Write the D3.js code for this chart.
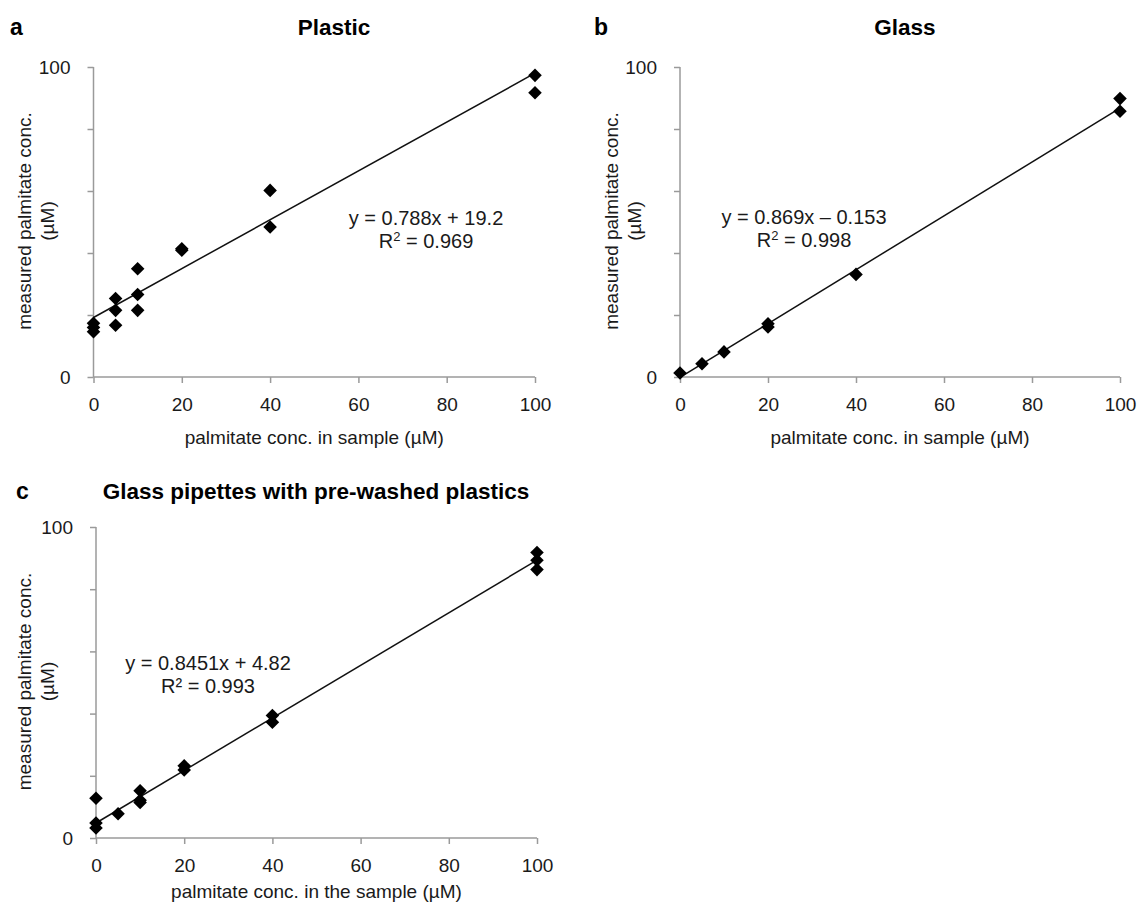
<!DOCTYPE html>
<html>
<head>
<meta charset="utf-8">
<script src="https://cdn.jsdelivr.net/npm/d3@7"></script>
<style>
  body { margin: 0; background: #fff; }
  svg { font-family: "Liberation Sans", Arial, sans-serif; }
</style>
</head>
<body>
<svg id="chart" width="1139" height="905"></svg>
<script>
// ---- data ----
const plasticX = [0, 0, 0, 5, 5, 5, 10, 10, 10, 20, 20, 40, 40, 100, 100];
const plasticY = [17.3, 16.0, 14.6, 25.3, 21.5, 16.7, 34.9, 26.6, 21.5, 41.4, 40.9, 60.2, 48.4, 97.3, 91.7];

const glassX = [0, 5, 10, 20, 20, 40, 100, 100];
const glassY = [1.3, 4.3, 8.1, 17.2, 16.1, 33.1, 89.8, 85.7];

const pipetteX = [0, 0, 0, 5, 10, 10, 10, 20, 20, 40, 40, 100, 100, 100];
const pipetteY = [12.8, 4.8, 3.2, 7.8, 15.2, 11.4, 12.1, 23.2, 21.9, 39.4, 37.2, 91.8, 89.3, 86.3];

const fitSlope = [0.788, 0.869, 0.8451];
const fitIntercept = [19.2, -0.153, 4.82];
const eqText = ["y = 0.788x + 19.2", "y = 0.869x \u2013 0.153", "y = 0.8451x + 4.82"];
const r2Text = ["0.969", "0.998", "0.993"];

const panelLetters = ["a", "b", "c"];
const panelTitles = ["Plastic", "Glass", "Glass pipettes with pre-washed plastics"];
const xTitles = ["palmitate conc. in sample (\u00b5M)", "palmitate conc. in sample (\u00b5M)", "palmitate conc. in the sample (\u00b5M)"];
const yTitle = ["measured palmitate conc.", "(\u00b5M)"];
const xTicks = [0, 20, 40, 60, 80, 100];
const yTicks = [0, 20, 40, 60, 80, 100];
const yTickLabels = { 0: "0", 100: "100" };

// ---- layout ----
const panels = [
  { x0: 93.5, x1: 535, yb: 377, yt: 67, letterX: 10, titleX: 334, titleY: 35, ytX: 24, xtY: 444, eqX: 426, eqY: 225, sup: true,
    xs: plasticX, ys: plasticY },
  { x0: 680, x1: 1120, yb: 377, yt: 67, letterX: 594, titleX: 905, titleY: 35, ytX: 611, xtY: 444, eqX: 804, eqY: 224, sup: true,
    xs: glassX, ys: glassY },
  { x0: 96, x1: 537, yb: 838, yt: 527, letterX: 16, titleX: 316, titleY: 499, ytX: 24, xtY: 898, eqX: 208, eqY: 670, sup: false,
    xs: pipetteX, ys: pipetteY }
];

const axisColor = "#9a9a9a";
const textColor = "#1a1a1a";

const svg = d3.select("#chart");

panels.forEach(function(p, i) {
  const x = d3.scaleLinear().domain([0, 100]).range([p.x0, p.x1]);
  const y = d3.scaleLinear().domain([0, 100]).range([p.yb, p.yt]);
  const g = svg.append("g");

  // axes
  const yAxis = d3.axisLeft(y).tickValues(yTicks).tickSize(6).tickPadding(17)
    .tickFormat(function(d){ return yTickLabels[d] || ""; });
  const xAxis = d3.axisBottom(x).tickValues(xTicks).tickSize(6).tickPadding(15);

  const ya = g.append("g").attr("transform", "translate(" + p.x0 + ",0)").call(yAxis);
  const xa = g.append("g").attr("transform", "translate(0," + p.yb + ")").call(xAxis);
  [ya, xa].forEach(function(a) {
    a.select(".domain").remove();
    a.selectAll(".tick line").attr("stroke", axisColor).attr("stroke-width", 1.5);
    a.selectAll(".tick text").attr("fill", textColor).style("font-size", "19px");
  });
  // plain axis lines (no outer ticks)
  g.append("line").attr("x1", p.x0).attr("x2", p.x0).attr("y1", y(100)).attr("y2", y(0))
    .attr("stroke", axisColor).attr("stroke-width", 1.5);
  g.append("line").attr("x1", x(0)).attr("x2", x(100)).attr("y1", y(0)).attr("y2", y(0))
    .attr("stroke", axisColor).attr("stroke-width", 1.5);

  // trend line
  g.append("line")
    .attr("x1", x(0)).attr("y1", y(fitIntercept[i]))
    .attr("x2", x(100)).attr("y2", y(fitSlope[i] * 100 + fitIntercept[i]))
    .attr("stroke", "#111").attr("stroke-width", 1.5);

  // diamonds
  const pts = p.xs.map(function(v, k){ return { x: v, y: p.ys[k] }; });
  const diamond = d3.symbol().type(d3.symbolSquare).size(92);
  g.selectAll("path.pt").data(pts).enter().append("path")
    .attr("class", "pt")
    .attr("d", diamond)
    .attr("transform", function(d){ return "translate(" + x(d.x) + "," + y(d.y) + ") rotate(45)"; })
    .attr("fill", "#000");

  // panel letter & title
  g.append("text").attr("x", p.letterX).attr("y", p.titleY)
    .style("font-size", "23px").style("font-weight", "bold").attr("fill", "#000").text(panelLetters[i]);
  g.append("text").attr("x", p.titleX).attr("y", p.titleY).attr("text-anchor", "middle")
    .style("font-size", "22.5px").style("font-weight", "bold").attr("fill", "#000").text(panelTitles[i]);

  // x title
  g.append("text").attr("x", (p.x0 + p.x1) / 2).attr("y", p.xtY).attr("text-anchor", "middle")
    .style("font-size", "19px").attr("fill", textColor).text(xTitles[i]);

  // y title (two lines, rotated)
  const yc = (p.yt + p.yb) / 2 - 1;
  yTitle.forEach(function(t, k) {
    g.append("text")
      .attr("transform", "translate(" + (p.ytX + k * 23) + "," + yc + ") rotate(-90)")
      .attr("text-anchor", "middle").attr("dy", "0.35em")
      .style("font-size", "19px").attr("fill", textColor).text(t);
  });

  // equation
  g.append("text").attr("x", p.eqX).attr("y", p.eqY).attr("text-anchor", "middle")
    .style("font-size", "20px").attr("fill", textColor).text(eqText[i]);
  const r = g.append("text").attr("x", p.eqX).attr("y", p.eqY + 23).attr("text-anchor", "middle")
    .style("font-size", "20px").attr("fill", textColor);
  if (p.sup) {
    r.append("tspan").text("R");
    r.append("tspan").attr("dy", -7).style("font-size", "13px").text("2");
    r.append("tspan").attr("dy", 7).text(" = " + r2Text[i]);
  } else {
    r.text("R\u00b2 = " + r2Text[i]);
  }
});
</script>
</body>
</html>
